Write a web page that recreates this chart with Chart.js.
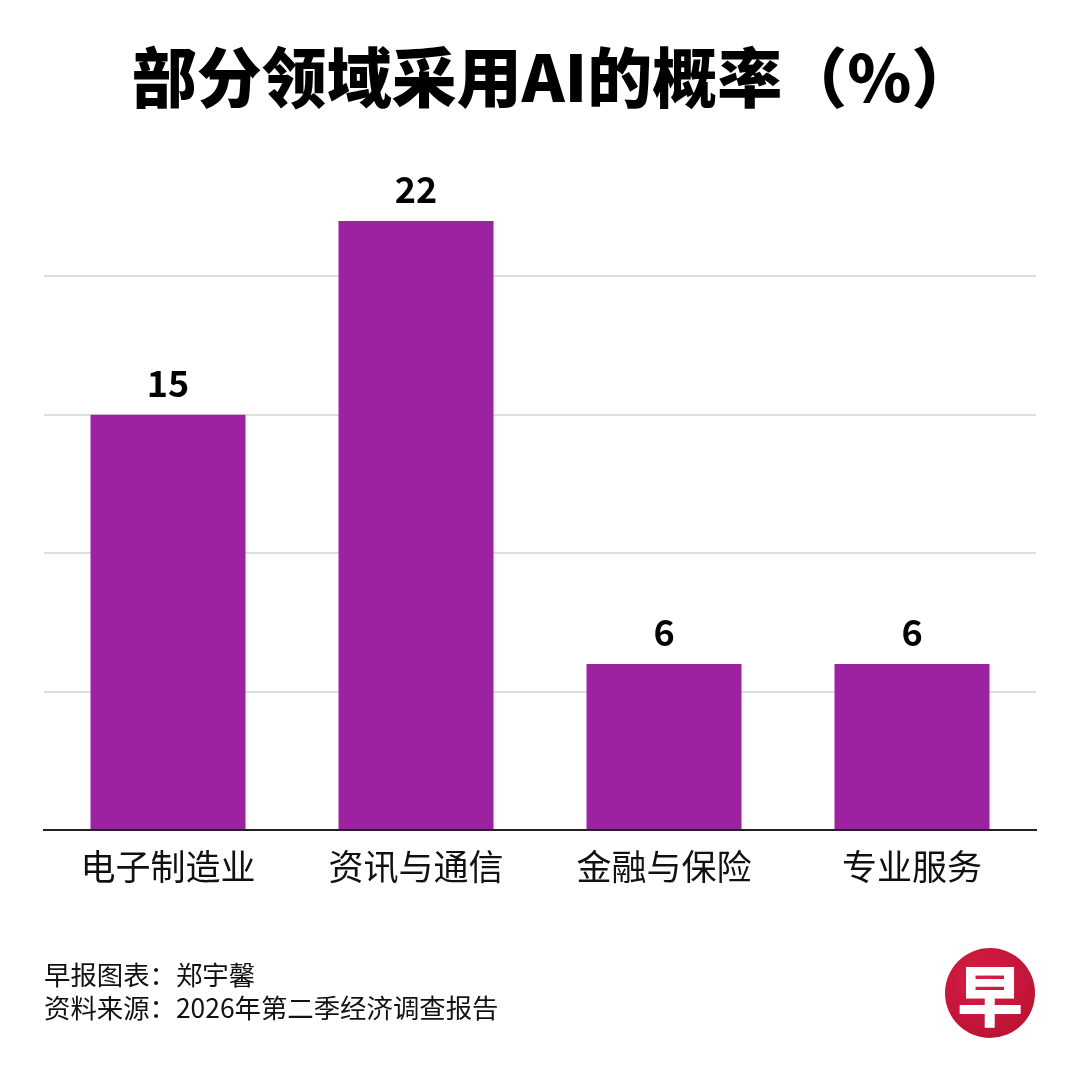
<!DOCTYPE html>
<html>
<head>
<meta charset="utf-8">
<script src="https://cdn.jsdelivr.net/npm/chart.js@4"></script>
<style>
  html, body { margin: 0; padding: 0; background: #fff; }
  body { width: 1080px; height: 1080px; position: relative; overflow: hidden;
         font-family: "Noto Sans CJK SC", "Noto Sans", sans-serif; }
  #title { position: absolute; top: 30px; left: 14px; width: 1080px; text-align: center;
           font-size: 65px; font-weight: 900; color: #000; line-height: 88px; }
  #holder { position: absolute; left: 0; top: 0; width: 1080px; height: 1080px; }
  #footer { position: absolute; left: 44px; top: 957px; font-size: 26.4px; line-height: 33px; color: #111; }
  #logo { position: absolute; left: 945px; top: 948px; width: 90px; height: 90px; border-radius: 50%;
          background: radial-gradient(circle at 40% 35%, #d81e45, #b3102f);
          color: #fff; font-size: 66px; font-weight: 900; text-align: center; line-height: 88px; }
</style>
</head>
<body>
<div id="holder"><canvas id="chart"></canvas></div>
<div id="title">部分领域采用AI的概率（%）</div>
<div id="footer">早报图表：郑宇馨<br>资料来源：2026年第二季经济调查报告</div>
<div id="logo">早</div>
<script>
const categories = ["电子制造业", "资讯与通信", "金融与保险", "专业服务"];
const values = [15, 22, 6, 6];
const yMax = 25;
const yStep = 5;

const barColor = "#9c22a0";
const font = "'Noto Sans CJK SC', 'Noto Sans', sans-serif";

// value labels above each bar
const valueLabels = {
  id: "valueLabels",
  afterDatasetsDraw(chart) {
    const ctx = chart.ctx;
    const meta = chart.getDatasetMeta(0);
    ctx.save();
    ctx.fillStyle = "#000";
    ctx.font = "bold 36px " + font;
    ctx.textAlign = "center";
    ctx.textBaseline = "alphabetic";
    meta.data.forEach((bar, i) => {
      ctx.fillText(values[i], bar.x, bar.y - 18);
    });
    ctx.restore();
  }
};

new Chart(document.getElementById("chart"), {
  type: "bar",
  data: {
    labels: categories,
    datasets: [{
      data: values,
      backgroundColor: barColor,
      borderWidth: 0,
      categoryPercentage: 1,
      barPercentage: 0.625
    }]
  },
  options: {
    responsive: true,
    maintainAspectRatio: false,
    animation: false,
    layout: { padding: { left: 44, right: 44, top: 138, bottom: 184 } },
    plugins: {
      legend: { display: false },
      tooltip: { enabled: false }
    },
    scales: {
      x: {
        grid: { display: false },
        border: { display: true, color: "#222", width: 2 },
        ticks: { color: "#111", padding: 8, font: { size: 35, family: font } }
      },
      y: {
        min: 0,
        max: yMax,
        ticks: { display: false, stepSize: yStep },
        border: { display: false },
        grid: {
          drawTicks: false,
          lineWidth: 2,
          color: c => (c.tick && (c.tick.value === 0 || c.tick.value === yMax)) ? "rgba(0,0,0,0)" : "#dedede"
        }
      }
    }
  },
  plugins: [valueLabels]
});
</script>
</body>
</html>
